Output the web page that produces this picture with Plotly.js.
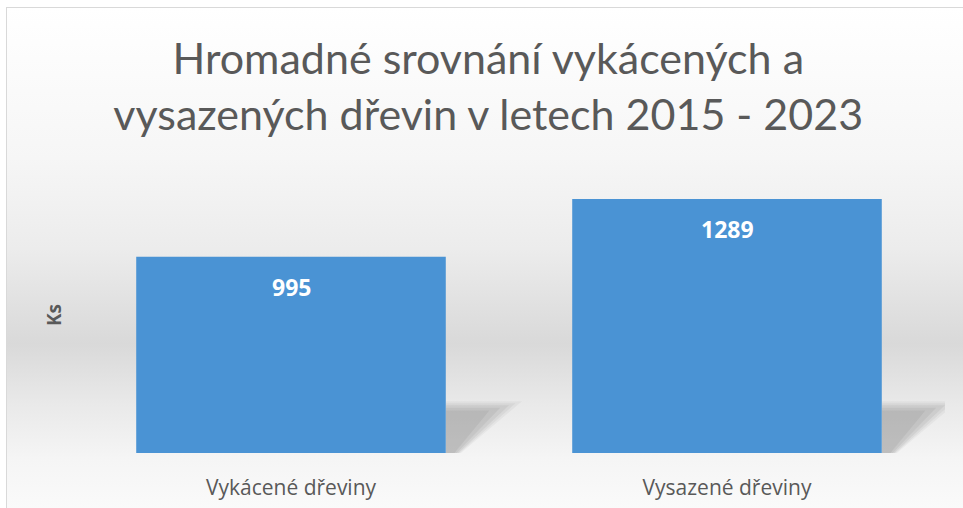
<!DOCTYPE html>
<html>
<head>
<meta charset="utf-8">
<script src="https://cdn.plot.ly/plotly-3.0.1.min.js"></script>
<style>
  html, body { margin: 0; padding: 0; width: 963px; height: 508px; overflow: hidden; background: #ffffff; }
  #frame {
    position: absolute; left: 6px; top: 7px; width: 1000px; height: 501px;
    border-top: 1px solid #d9d9d9; border-left: 1px solid #d9d9d9;
    background: linear-gradient(to bottom, #ffffff 0%, #f6f6f6 30%, #ececec 48%, #d9d9d9 67%, #e9e9e9 79%, #f5f5f5 90%, #fafafa 100%);
  }
  #chart { position: absolute; left: 0; top: 0; width: 963px; height: 508px; }
</style>
</head>
<body>
<div id="frame"></div>
<div id="chart"></div>
<script>
// Data
const categories = ["Vykácené dřeviny", "Vysazené dřeviny"];
const values = [995, 1289];
const titleText = "Hromadné srovnání vykácených a<br>vysazených dřevin v letech 2015 - 2023";
const yTitle = "Ks";

const barGap = 0.29;
const halfW = (1 - barGap) / 2;

const trace = {
  type: "bar",
  x: categories,
  y: values,
  marker: { color: "#4a93d4", line: { width: 0 } },
  hoverinfo: "x+y",
  showlegend: false
};

// value labels inside the bars, near the top
const annotations = categories.map((c, i) => ({
  x: c, y: values[i], xref: "x", yref: "y",
  text: "<b>" + values[i] + "</b>",
  showarrow: false, yanchor: "middle", yshift: -30,
  font: { family: "Open Sans, sans-serif", size: 23, color: "#ffffff" }
}));

// soft perspective shadows at the bottom-right of each bar (decoration)
const shapes = [];
categories.forEach((c, i) => {
  const r = i + halfW;
  const layers = [
    { dx: 0.175, h: 262, a: 0.035 },
    { dx: 0.16, h: 252, a: 0.045 },
    { dx: 0.145, h: 242, a: 0.05 },
    { dx: 0.125, h: 230, a: 0.05 },
    { dx: 0.10, h: 215, a: 0.05 }
  ];
  layers.forEach(L => {
    shapes.push({
      type: "path", xref: "x", yref: "y", layer: "below",
      path: `M ${r},0 L ${r},${L.h} L ${r + L.dx},${L.h} L ${r + L.dx * 0.2},0 Z`,
      fillcolor: `rgba(0,0,0,${L.a})`, line: { width: 0 }
    });
  });
});

const layout = {
  width: 963, height: 508,
  paper_bgcolor: "rgba(0,0,0,0)",
  plot_bgcolor: "rgba(0,0,0,0)",
  margin: { l: 73, r: 18, t: 177, b: 55 },
  bargap: barGap,
  title: {
    text: titleText,
    x: 0.507, xanchor: "center",
    y: 1 - 74 / 508, yanchor: "top", yref: "container",
    font: { family: "Lato, sans-serif", size: 43, color: "#595959" }
  },
  xaxis: {
    type: "category", automargin: false,
    range: [-0.5, categories.length - 0.5],
    showgrid: false, zeroline: false, showline: false, ticks: "",
    ticklabelstandoff: 20,
    tickfont: { family: "Open Sans, sans-serif", size: 21, color: "#595959" }
  },
  yaxis: {
    range: [0, 1400], automargin: false,
    showgrid: false, zeroline: false, showline: false, showticklabels: false, ticks: "",
    title: { text: "<b>" + yTitle + "</b>", standoff: 5,
             font: { family: "Open Sans, sans-serif", size: 19, color: "#595959" } }
  },
  annotations: annotations,
  shapes: shapes
};

Plotly.newPlot("chart", [trace], layout, { displayModeBar: false });
</script>
</body>
</html>
